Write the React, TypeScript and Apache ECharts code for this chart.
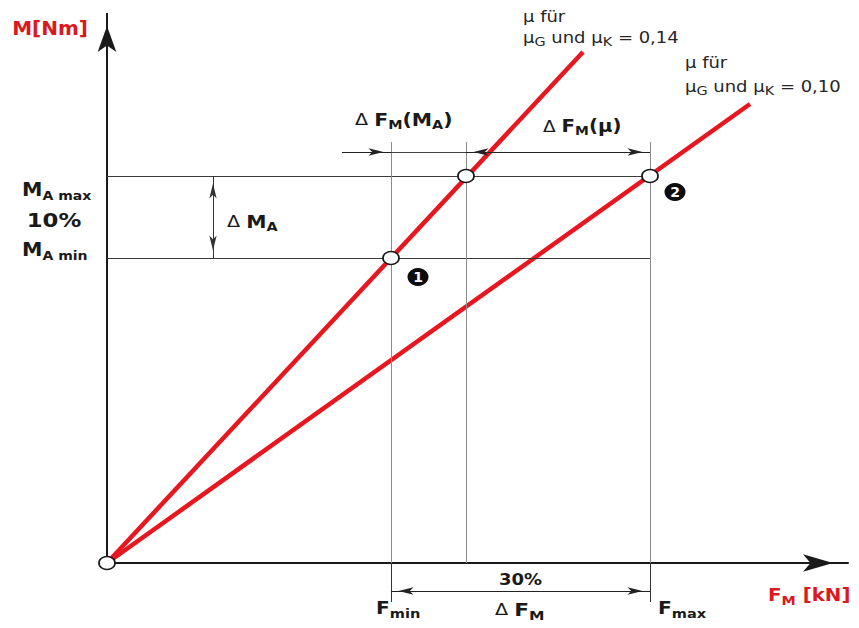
import React, { useEffect, useRef } from "react";
import * as echarts from "echarts";

// ---------- values (abstract units) ----------
const forceLevels = [28.4, 35.9, 54.3]; // F_min, F at M_A max on the μ=0,14 line, F_max
const torqueLevels = [30.5, 38.7]; // M_A min, M_A max
const lineMu014 = [[0, 0], [47.6, 51.1]]; // μG und μK = 0,14
const lineMu010 = [[0, 0], [64.3, 45.9]]; // μG und μK = 0,10
const axisRangeX = [0, 74.1];
const axisRangeY = [-6.5, 55];
const guideTop = 42.1; // upper end of the vertical guides
const guideBottom = -3.9; // lower end of F_min / F_max guides
const dimTopLevel = 41.1; // ΔF_M(M_A) / ΔF_M(μ) dimension line
const dimBottomLevel = -2.8; // 30 % dimension line
const dimStartX = 23.5; // left start of ΔF_M(M_A) arrow
const deltaMAX = 10.6; // x of the ΔM_A dimension
const badgeNames = ["1", "2"];

const RED_LINE = "#e8161e";
const RED_TEXT = "#dc1820";
const BLACK = "#1a1a1a";
const FONT = "DejaVu Sans";

const rich: any = {
  r: { fontFamily: FONT, fontWeight: "bold", fontSize: 20, fill: RED_TEXT },
  q: { fontFamily: FONT, fontWeight: "bold", fontSize: 18, fill: RED_TEXT },
  qs: { fontFamily: FONT, fontWeight: "bold", fontSize: 13, fill: RED_TEXT, padding: [12, 0, 0, 0], lineHeight: 14 },
  B: { fontFamily: FONT, fontWeight: "bold", fontSize: 19, fill: BLACK },
  Bs: { fontFamily: FONT, fontWeight: "bold", fontSize: 13, fill: BLACK, padding: [10, 0, 0, 0], lineHeight: 14 },
  b: { fontFamily: FONT, fontWeight: "bold", fontSize: 17, fill: BLACK },
  bs: { fontFamily: FONT, fontWeight: "bold", fontSize: 12, fill: BLACK, padding: [10, 0, 0, 0], lineHeight: 13 },
  c: { fontFamily: FONT, fontWeight: "bold", fontSize: 18, fill: BLACK },
  cs: { fontFamily: FONT, fontWeight: "bold", fontSize: 13, fill: BLACK, padding: [11, 0, 0, 0], lineHeight: 14 },
  d: { fontFamily: FONT, fontSize: 16, fill: BLACK },
  p: { fontFamily: FONT, fontWeight: "bold", fontSize: 15, fill: BLACK },
  n: { fontFamily: FONT, fontSize: 15, fill: "#262626" },
  ns: { fontFamily: FONT, fontSize: 12, fill: "#262626", padding: [7, 0, 0, 0], lineHeight: 12 },
};

export default function App() {
  const ref = useRef<HTMLDivElement>(null);

  useEffect(() => {
    if (!ref.current) return;
    const chart = echarts.init(ref.current, null, { renderer: "svg" });
    const [fMin, fMid, fMax] = forceLevels;
    const [maMin, maMax] = torqueLevels;

    const guide = (a: number[], b: number[], color: string, width = 1) => [
      { coord: a, symbol: "none", lineStyle: { color, width, type: "solid" } },
      { coord: b, symbol: "none" },
    ];
    const AR = { symbol: "arrow", symbolSize: [5.5, 15], symbolOffset: [0, 7.5] };
    const NONE = { symbol: "none" };
    const dim = (a: number[], b: number[], from: any, to: any, color: string) => [
      { coord: a, ...from, lineStyle: { color, width: 1, type: "solid" } },
      { coord: b, ...to },
    ];

    const markLines: any[] = [
      // y axis with arrow
      [
        { coord: [0, 0], symbol: "none", lineStyle: { color: BLACK, width: 2, type: "solid" } },
        { coord: [0, axisRangeY[1]], symbol: "arrow", symbolSize: [14, 26], symbolOffset: [0, 13] },
      ],
      guide([0, maMax], [fMax, maMax], "#3a3a3a"),
      guide([0, maMin], [fMax, maMin], "#3a3a3a"),
      guide([fMin, 0], [fMin, guideTop], "#8c8c8c"),
      guide([fMid, 0], [fMid, guideTop], "#8c8c8c"),
      guide([fMax, 0], [fMax, guideTop], "#8c8c8c"),
      guide([fMin, guideBottom], [fMin, 0], "#333333"),
      guide([fMax, guideBottom], [fMax, 0], "#333333"),
      guide([fMin, dimTopLevel], [fMid, dimTopLevel], "#444444"),
      dim([dimStartX, dimTopLevel], [fMin, dimTopLevel], NONE, AR, "#222222"),
      dim([fMid, dimTopLevel], [fMax, dimTopLevel], AR, AR, "#222222"),
      dim([deltaMAX, maMin], [deltaMAX, maMax], AR, AR, "#333333"),
      dim([fMin, dimBottomLevel], [fMax, dimBottomLevel], AR, AR, "#222222"),
    ];

    const openPoints = [[0, 0], [fMin, maMin], [fMid, maMax], [fMax, maMax]];
    const badgeData = [
      { name: badgeNames[0], value: [fMin + 2.7, maMin - 1.9] },
      { name: badgeNames[1], value: [fMax + 2.5, maMax - 1.6] },
    ];

    chart.setOption({
      animation: false,
      grid: { left: 107, right: 11, top: 13, bottom: 0 },
      xAxis: {
        type: "value",
        min: axisRangeX[0],
        max: axisRangeX[1],
        axisLine: {
          show: true,
          onZero: true,
          symbol: ["none", "arrow"],
          symbolSize: [13, 30],
          symbolOffset: [0, -15],
          lineStyle: { color: BLACK, width: 2 },
        },
        axisTick: { show: false },
        axisLabel: { show: false },
        splitLine: { show: false },
      },
      yAxis: {
        type: "value",
        min: axisRangeY[0],
        max: axisRangeY[1],
        axisLine: { show: false },
        axisTick: { show: false },
        axisLabel: { show: false },
        splitLine: { show: false },
      },
      series: [
        {
          type: "line",
          name: "guides",
          data: [[0, 0]],
          symbol: "none",
          lineStyle: { opacity: 0 },
          silent: true,
          z: 1,
          markLine: {
            silent: true,
            animation: false,
            label: { show: false },
            lineStyle: { type: "solid", width: 1, color: "#333" },
            symbol: ["none", "none"],
            data: markLines,
          },
        },
        {
          type: "line",
          name: "μ 0,14",
          data: lineMu014,
          symbol: "none",
          silent: true,
          z: 3,
          lineStyle: { color: RED_LINE, width: 4.5 },
        },
        {
          type: "line",
          name: "μ 0,10",
          data: lineMu010,
          symbol: "none",
          silent: true,
          z: 3,
          lineStyle: { color: RED_LINE, width: 4.5 },
        },
        {
          type: "scatter",
          data: openPoints,
          symbol: "circle",
          symbolSize: [16, 13],
          clip: false,
          silent: true,
          z: 5,
          itemStyle: { color: "#ffffff", borderColor: BLACK, borderWidth: 1.6, opacity: 1 },
        },
        {
          type: "scatter",
          data: badgeData,
          symbol: "circle",
          symbolSize: [21, 18],
          clip: false,
          silent: true,
          z: 5,
          itemStyle: { color: "#0d0d0d", opacity: 1 },
          label: {
            show: true,
            position: "inside",
            formatter: "{b}",
            color: "#ffffff",
            fontWeight: "bold",
            fontSize: 14,
            fontFamily: FONT,
          },
        },
      ],
    });

    const labels = [
      { at: [-5.7, 53.5], align: "center", sx: 1.0, text: "{r|M[Nm]}" },
      { at: [66.1, -3.1], align: "left", sx: 1.1, text: "{q|F}{qs|M}{q| [kN]}" },
      { at: [-8.5, maMax - 1.4], align: "left", sx: 1.08, text: "{B|M}{Bs|A max}" },
      { at: [-5.3, (maMin + maMax) / 2 - 0.4], align: "center", sx: 1.2, text: "{B|10%}" },
      { at: [-8.5, maMin + 0.8], align: "left", sx: 1.08, text: "{B|M}{Bs|A min}" },
      { at: [deltaMAX + 1.4, (maMin + maMax) / 2 - 0.5], align: "left", sx: 1.2, text: "{d|Δ }{b|M}{bs|A}" },
      { at: [fMin - 3.6, dimTopLevel + 3.2], align: "left", sx: 1.2, text: "{d|Δ }{b|F}{bs|M}{b|(M}{bs|A}{b|)}" },
      { at: [43.6, dimTopLevel + 2.6], align: "left", sx: 1.16, text: "{d|Δ }{b|F}{bs|M}{b|(μ)}" },
      { at: [(fMin + fMax) / 2, dimBottomLevel + 1.1], align: "center", sx: 1.2, text: "{p|30%}" },
      { at: [fMin - 1.5, -4.5], align: "left", sx: 1.12, text: "{c|F}{cs|min}" },
      { at: [38.8, -4.7], align: "left", sx: 1.2, text: "{d|Δ }{c|F}{cs|M}" },
      { at: [fMax + 0.8, -4.5], align: "left", sx: 1.12, text: "{c|F}{cs|max}" },
      { at: [41.6, 54.6], align: "left", sx: 1.2, text: "{n|μ für}" },
      { at: [41.6, 52.5], align: "left", sx: 1.2, text: "{n|μ}{ns|G}{n| und μ}{ns|K}{n| = 0,14}" },
      { at: [57.8, 50.0], align: "left", sx: 1.2, text: "{n|μ für}" },
      { at: [57.8, 47.6], align: "left", sx: 1.2, text: "{n|μ}{ns|G}{n| und μ}{ns|K}{n| = 0,10}" },
    ];

    chart.setOption({
      graphic: labels.map((l, i) => {
        const p = chart.convertToPixel({ gridIndex: 0 }, l.at) as number[];
        return {
          type: "text",
          id: "lbl" + i,
          x: p[0],
          y: p[1],
          scaleX: l.sx,
          silent: true,
          z: 20,
          style: { text: l.text, rich, align: l.align, verticalAlign: "middle" },
        };
      }),
    });

    return () => chart.dispose();
  }, []);

  return (
    <div
      ref={ref}
      style={{ position: "fixed", left: 0, top: 0, width: 859, height: 628, background: "#ffffff" }}
    />
  );
}
